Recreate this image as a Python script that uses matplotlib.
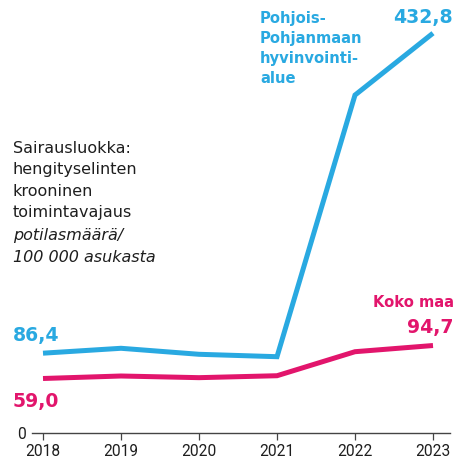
import matplotlib
matplotlib.use("Agg")
import matplotlib.pyplot as plt

years = [2018, 2019, 2020, 2021, 2022, 2023]
pohjois = [86.4, 91.7, 85.2, 82.6, 365.8, 432.8]
koko_maa = [59.0, 61.7, 59.9, 62.0, 88.0, 94.7]
year_labels = ["2018", "2019", "2020", "2021", "2022", "2023"]

BLUE = "#29a9e1"
PINK = "#e2156c"
TXT = "#1e1e1e"

W = H = 468
fig = plt.figure(figsize=(4.68, 4.68), dpi=100)

def fx(px):
    return px / W

def fy(py):
    return 1 - py / H

# axes frame in pixels: left 32, right 450, bottom 433, top 20
ax = fig.add_axes([fx(32), fy(433), fx(450) - fx(32), fy(20) - fy(433)])
px_per_year = 78.0
ax.set_xlim(2018 - 11 / px_per_year, 2018 + 407 / px_per_year)
ax.set_ylim(0, (433 - 20) / 0.9238)

ax.plot(years, pohjois, color=BLUE, lw=3.6, solid_capstyle="butt",
        solid_joinstyle="miter", clip_on=False, zorder=3)
ax.plot(years, koko_maa, color=PINK, lw=3.6, solid_capstyle="butt",
        solid_joinstyle="miter", clip_on=False, zorder=3)

for s in ["top", "right", "left"]:
    ax.spines[s].set_visible(False)
ax.spines["bottom"].set_color("#444444")
ax.spines["bottom"].set_linewidth(1.0)
ax.set_xticks(years)
ax.set_xticklabels(year_labels, family=["Roboto", "DejaVu Sans"],
                   fontsize=11.2, color=TXT)
ax.tick_params(axis="x", direction="out", length=5, width=0.9, color="#444444", pad=3)
ax.set_yticks([0])
ax.set_yticklabels(["0"], family=["Roboto", "DejaVu Sans"],
                   fontsize=11.2, color=TXT)
ax.tick_params(axis="y", length=0, pad=4.5)
ax.patch.set_alpha(0)

# labels
def txt(x, y, s, **kw):
    fig.text(fx(x), fy(y), s, va="baseline", **kw)

txt(453, 23, "432,8", ha="right", color=BLUE, fontsize=13.6, fontweight="bold")
for i, line in enumerate(["Pohjois-", "Pohjanmaan", "hyvinvointi-", "alue"]):
    txt(260, 23 + i * 20, line, ha="left", color=BLUE, fontsize=10.6, fontweight="bold")

txt(454, 307, "Koko maa", ha="right", color=PINK, fontsize=10.6, fontweight="bold")
txt(454, 332.7, "94,7", ha="right", color=PINK, fontsize=13.6, fontweight="bold")
txt(13, 340.7, "86,4", ha="left", color=BLUE, fontsize=13.6, fontweight="bold")
txt(13, 407, "59,0", ha="left", color=PINK, fontsize=13.6, fontweight="bold")

title_lines = ["Sairausluokka:", "hengityselinten", "krooninen", "toimintavajaus"]
for i, line in enumerate(title_lines):
    txt(13, 152.7 + i * 21.6, line, ha="left", color=TXT, fontsize=11.5)
for i, line in enumerate(["potilasmäärä/", "100 000 asukasta"]):
    txt(13, 240 + i * 21.8, line, ha="left", color=TXT, fontsize=11.5, style="italic")

fig.savefig("out.png", dpi=100)
